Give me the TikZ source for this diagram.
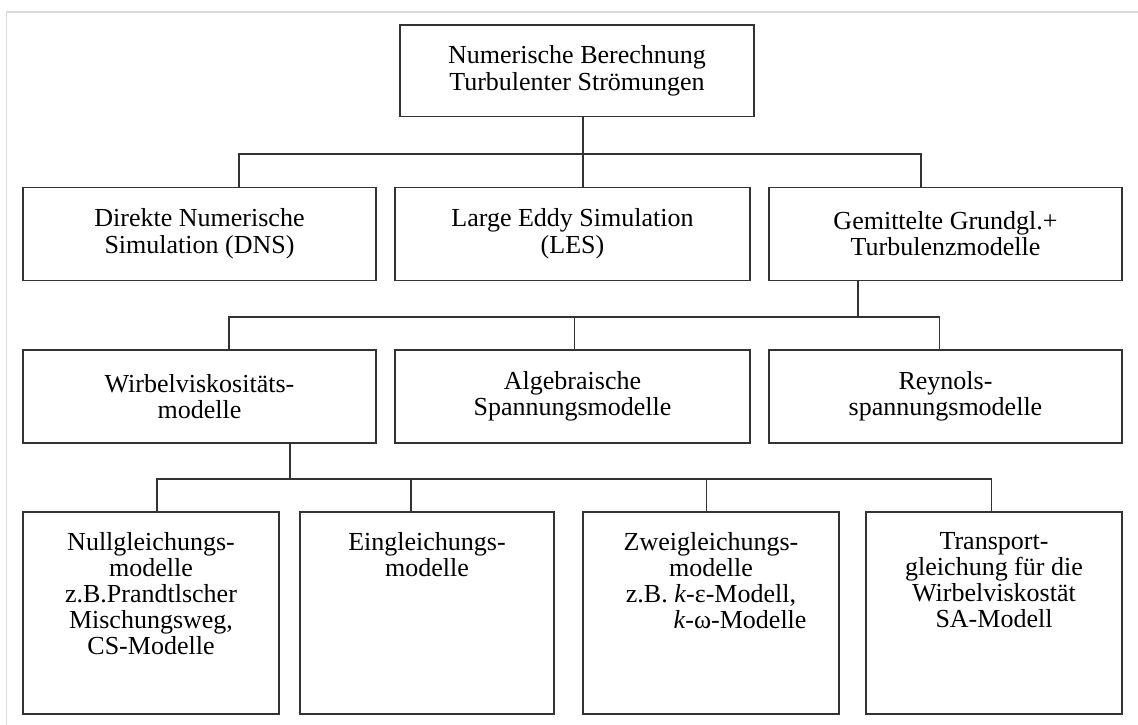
\documentclass[tikz,border=0pt]{standalone}
\usepackage{fontspec}
\setmainfont{Liberation Serif}

\begin{document}
\begin{tikzpicture}[x=1pt, y=-1pt,
    box/.style={draw=black!80, line width=1.1pt, rectangle, inner sep=0pt, align=center, font=\fontsize{26}{26.5}\selectfont},
    txt/.style={inner sep=0pt, align=center, anchor=north, font=\fontsize{26}{26}\selectfont},
    link/.style={draw=black!80, line width=1.1pt}]
  %tikz  Turbulenzmodelle, Uebersicht
    \def\hh{93pt}
    \def\hb{202pt}
    \useasboundingbox (0,0) rectangle (1138,724);
    \draw[black!15, line width=1.5pt] (6.5,740) -- (6.5,12) -- (1150,12);

    \coordinate(b1) at (583,154);
    \coordinate(b2) at (858,317);
    \coordinate(b3) at (290,479);

    \node[box, minimum width=354pt, minimum height=91.5pt] (top) at (577,70.75) {Numerische Berechnung\\Turbulenter Strömungen};

    \node[box, minimum width=353pt, minimum height=\hh] (dns) at (199.5,233.75) {Direkte Numerische\\Simulation (DNS)};
    \node[box, minimum width=355pt, minimum height=\hh] (les) at (572.5,233.75) {Large Eddy Simulation\\(LES)};
    \node[box, minimum width=353pt, minimum height=\hh] (gem) at (945.5,233.75) {Gemittelte Grundgl.+\\Turbulenzmodelle};

    \node[box, minimum width=353pt, minimum height=\hh] (wvm) at (199.5,396.5) {Wirbelviskositäts-\\modelle};
    \node[box, minimum width=355pt, minimum height=\hh] (asm) at (572.5,396.5) {Algebraische\\Spannungsmodelle};
    \node[box, minimum width=353pt, minimum height=\hh] (rsm) at (945.5,396.5) {Reynols-\\spannungsmodelle};

    \node[box, minimum width=256pt, minimum height=\hb] (nul) at (151,613) {};
    \node[box, minimum width=254pt, minimum height=\hb] (eig) at (427,613) {};
    \node[box, minimum width=256pt, minimum height=\hb] (zwe) at (711,613) {};
    \node[box, minimum width=256pt, minimum height=\hb] (tra) at (994,613) {};

    \node[txt] (nul-t) at ([yshift=-21pt]nul.north) {Nullgleichungs-\\modelle\\z.B.Prandtlscher\\Mischungsweg,\\CS-Modelle};
    \node[txt] (eig-t) at ([yshift=-21pt]eig.north) {Eingleichungs-\\modelle};
    \node[txt] (zwe-t) at ([yshift=-21pt]zwe.north) {Zweigleichungs-\\modelle\\z.B. \textit{k}-ε-Modell,\\\hspace*{58pt}\textit{k}-ω-Modelle};
    \node[txt] (tra-t) at ([yshift=-21pt]tra.north) {Transport-\\gleichung für die\\Wirbelviskostät\\SA-Modell};

    \draw[link] (top.south -| b1) -- (les.north -| b1);
    \draw[link] ([xshift=39.5pt]dns.north) |- (b1) -| ([xshift=-24.5pt]gem.north);

    \draw[link] (gem.south -| b2) -- (b2);
    \draw[link] ([xshift=29.5pt]wvm.north) |- (b2) -| ([xshift=-6pt]rsm.north);
    \draw[link] ([xshift=2pt]asm.north) |- (b2);

    \draw[link] (wvm.south -| b3) -- (b3);
    \draw[link] ([xshift=6pt]nul.north) |- (b3) -| ([xshift=-2.5pt]tra.north);
    \draw[link] ([xshift=-16pt]eig.north) |- (b3);
    \draw[link] ([xshift=-4.5pt]zwe.north) |- (b3);
\end{tikzpicture}
\end{document}
